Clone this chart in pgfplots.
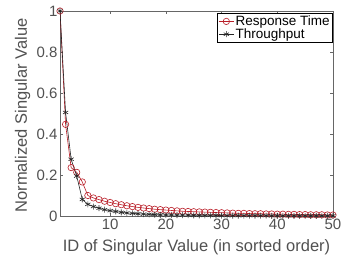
\documentclass[border=0pt]{standalone}
\usepackage{fontspec}
\setmainfont{Liberation Sans}
\usepackage{pgfplots}
\pgfplotsset{compat=1.18}
\definecolor{rtred}{RGB}{185,30,40}
\definecolor{axgray}{RGB}{38,38,38}
\begin{document}
\begin{tikzpicture}
\begin{axis}[
  scale only axis,
  width=273pt, height=205pt,
  xmin=1, xmax=50, ymin=0, ymax=1,
  xtick={10,20,30,40,50},
  ytick={0,0.2,0.4,0.6,0.8,1},
  yticklabels={0,0.2,0.4,0.6,0.8,1},
  tick align=inside,
  major tick length=3pt,
  axis line style={draw=gray!80!black, line width=0.5pt},
  every tick/.style={gray!80!black},
  tick label style={font=\fontsize{15}{17}\selectfont, text=axgray!80},
  xticklabel style={yshift=1pt},
  yticklabel style={xshift=1pt},
  /pgf/number format/assume math mode=true,
  xlabel={ID of Singular Value (in sorted order)},
  ylabel={Normalized Singular Value},
  label style={font=\fontsize{16.5}{18}\selectfont, text=axgray!80},
  xlabel style={at={(axis description cs:0.5,0)}, anchor=center, yshift=-31pt},
  ylabel style={at={(axis description cs:0,0.5)}, anchor=center, yshift=37.5pt, xshift=-2pt},
  legend style={at={(0.998,0.99)}, anchor=north east, font=\fontsize{13.5}{14}\selectfont,
    draw=black, line width=0.5pt, inner sep=1pt, row sep=-1.5pt,
    nodes={inner sep=1.5pt}},
  legend image code/.code={\draw[mark repeat=2,mark phase=2,#1] plot coordinates {(0pt,0pt) (7.5pt,0pt) (15pt,0pt)};},
  legend cell align=left,
]
\coordinate (bl) at (rel axis cs:0,0);
\coordinate (tr) at (rel axis cs:1,1);
\addplot[rtred, line width=0.6pt, mark=o, mark size=3.2pt, mark options={line width=0.6pt}] coordinates {
(1,1)(2,0.447)(3,0.236)(4,0.213)(5,0.166)(6,0.100)(7,0.088)(8,0.080)(9,0.072)(10,0.066)
(11,0.060)(12,0.055)(13,0.050)(14,0.046)(15,0.042)(16,0.039)(17,0.036)(18,0.033)(19,0.031)(20,0.029)
(21,0.027)(22,0.025)(23,0.023)(24,0.022)(25,0.021)(26,0.020)(27,0.019)(28,0.018)(29,0.017)(30,0.016)
(31,0.015)(32,0.014)(33,0.013)(34,0.013)(35,0.012)(36,0.011)(37,0.011)(38,0.010)(39,0.010)(40,0.009)
(41,0.009)(42,0.008)(43,0.008)(44,0.007)(45,0.007)(46,0.006)(47,0.006)(48,0.006)(49,0.005)(50,0.005)
};
\addlegendentry{Response Time}
\addplot[black!85, line width=0.6pt, mark=asterisk, mark size=3pt, mark options={line width=0.6pt}] coordinates {
(1,1)(2,0.505)(3,0.277)(4,0.195)(5,0.081)(6,0.057)(7,0.046)(8,0.038)(9,0.031)(10,0.026)
(11,0.022)(12,0.018)(13,0.015)(14,0.013)(15,0.011)(16,0.009)(17,0.008)(18,0.007)(19,0.006)(20,0.005)
(21,0.005)(22,0.004)(23,0.004)(24,0.004)(25,0.003)(26,0.003)(27,0.003)(28,0.003)(29,0.003)(30,0.002)
(31,0.002)(32,0.002)(33,0.002)(34,0.002)(35,0.002)(36,0.002)(37,0.002)(38,0.002)(39,0.001)(40,0.001)
(41,0.001)(42,0.001)(43,0.001)(44,0.001)(45,0.001)(46,0.001)(47,0.001)(48,0.001)(49,0.001)(50,0.001)
};
\addlegendentry{Throughput}
\end{axis}
\pgfresetboundingbox
\path ([shift={(-60pt,-40pt)}]bl) rectangle ([shift={(9pt,11pt)}]tr);
\end{tikzpicture}
\end{document}
